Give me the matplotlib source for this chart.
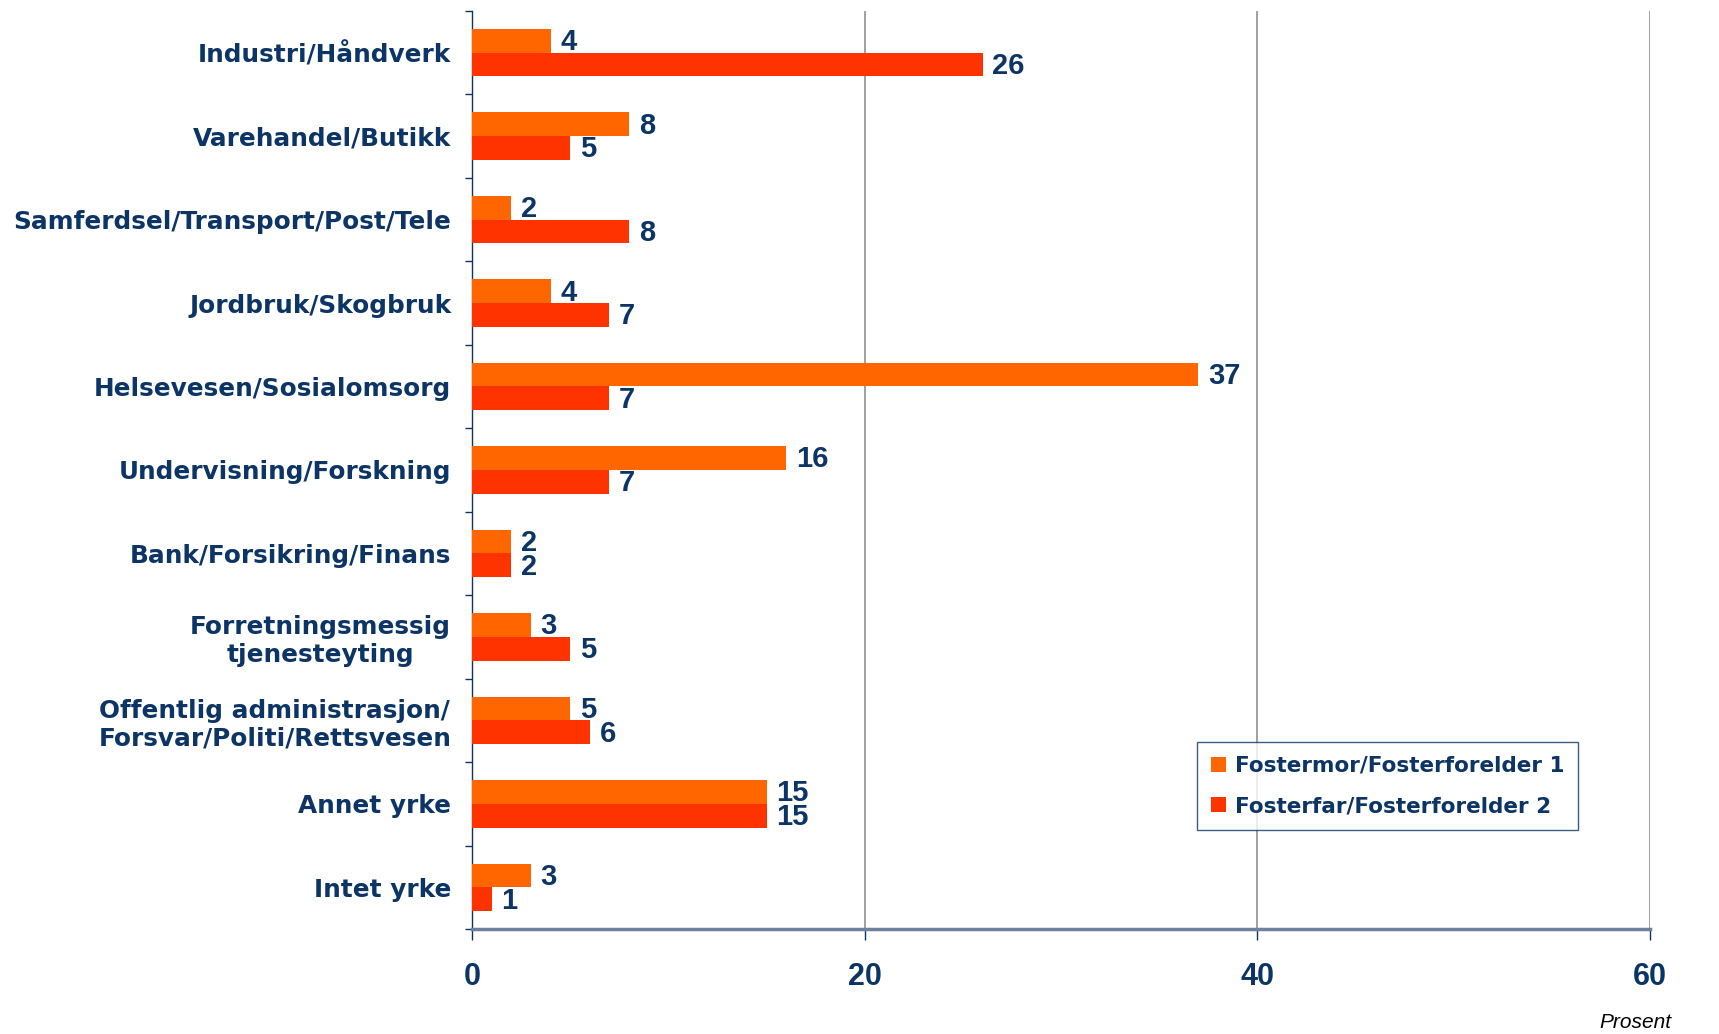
import matplotlib.pyplot as plt
import numpy as np

categories = ["Industri/Håndverk", "Varehandel/Butikk", "Samferdsel/Transport/Post/Tele",
              "Jordbruk/Skogbruk", "Helsevesen/Sosialomsorg", "Undervisning/Forskning",
              "Bank/Forsikring/Finans", "Forretningsmessig\ntjenesteyting",
              "Offentlig administrasjon/\nForsvar/Politi/Rettsvesen", "Annet yrke", "Intet yrke"]
mor = [4, 8, 2, 4, 37, 16, 2, 3, 5, 15, 3]
far = [26, 5, 8, 7, 7, 7, 2, 5, 6, 15, 1]
series_names = ["Fostermor/Fosterforelder 1", "Fosterfar/Fosterforelder 2"]

navy = "#0c3566"
c_mor = "#ff6600"
c_far = "#ff3300"

plt.rcParams['font.family'] = ['Liberation Sans', 'DejaVu Sans']

fig = plt.figure(figsize=(17.19, 10.34), dpi=100)
ax = fig.add_axes([0.2746, 0.1015, 0.6853, 0.888])

y = np.arange(len(categories))
h = 0.285
b1 = ax.barh(y - h / 2, mor, height=h, color=c_mor, label=series_names[0], zorder=3)
b2 = ax.barh(y + h / 2, far, height=h, color=c_far, label=series_names[1], zorder=3)

# value labels next to bar ends
for bars, vals in ((b1, mor), (b2, far)):
    for rect, v in zip(bars, vals):
        ax.annotate(str(v), (rect.get_width(), rect.get_y() + rect.get_height() / 2),
                    xytext=(7, -1), textcoords="offset points", va="center", ha="left",
                    fontsize=21, fontweight="bold", color=navy, zorder=4)

ax.set_xlim(0, 60)
ax.set_ylim(len(categories) - 0.5, -0.5)
ax.set_xticks([0, 20, 40, 60])
ax.tick_params(axis="x", direction="out", length=8, width=1, color=navy, pad=16,
               labelsize=22, labelcolor=navy)
for t in ax.get_xticklabels():
    t.set_fontweight("bold")

ax.set_yticks(y)
ax.set_yticklabels(categories, fontsize=17.8, fontweight="bold", color=navy, ha="right",
                   family="DejaVu Sans")
ax.set_yticks(np.arange(len(categories) + 1) - 0.5, minor=True)
ax.tick_params(axis="y", which="major", length=0, pad=15)
ax.tick_params(axis="y", which="minor", length=5, width=1, color=navy, direction="out")
for t in ax.get_yticklabels():
    t.set_multialignment("center")

ax.grid(axis="x", color="#999999", linewidth=1.3, zorder=0)
ax.spines["top"].set_visible(False)
ax.spines["right"].set_visible(False)
ax.spines["left"].set_color(navy)
ax.spines["left"].set_linewidth(1)
ax.spines["bottom"].set_color("#6d819e")
ax.spines["bottom"].set_linewidth(2.5)

leg = ax.legend(loc="lower right", bbox_to_anchor=(0.948, 0.096),
                prop={"weight": "bold", "size": 15.5, "family": "DejaVu Sans"},
                frameon=True, fancybox=False,
                handlelength=0.7, handleheight=0.7, handletextpad=0.4,
                labelspacing=0.95, borderpad=0.65, edgecolor=navy)
leg.get_frame().set_linewidth(1)
for t in leg.get_texts():
    t.set_color(navy)

fig.text(0.972, 0.011, "Prosent", ha="right", va="center", fontsize=15, style="italic", color="black")

fig.savefig("out.png", dpi=100)
